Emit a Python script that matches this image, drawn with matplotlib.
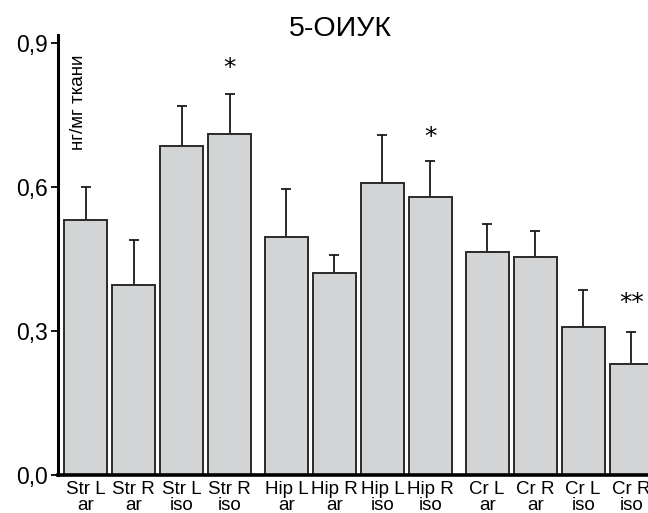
import numpy as np
import matplotlib
matplotlib.use("Agg")
import matplotlib.pyplot as plt

plt.rcParams['font.family'] = ['Liberation Sans', 'DejaVu Sans']

# Подписи столбцов
labels = ["Str L\nar", "Str R\nar", "Str L\niso", "Str R\niso",
          "Hip L\nar", "Hip R\nar", "Hip L\niso", "Hip R\niso",
          "Cr L\nar", "Cr R\nar", "Cr L\niso", "Cr R\niso"]

# Средние значения, нг/мг ткани
means = [0.531, 0.395, 0.685, 0.711,
         0.495, 0.420, 0.608, 0.579,
         0.465, 0.454, 0.308, 0.231]

# Верх планок погрешности
err_top = [0.601, 0.490, 0.769, 0.793,
           0.595, 0.459, 0.708, 0.655,
           0.523, 0.508, 0.386, 0.297]

# Отметки значимости: индекс столбца, текст, высота
marks = [(3, "*", 0.848), (7, "*", 0.705), (11, "**", 0.359)]

groups = [0, 0, 0, 0, 1, 1, 1, 1, 2, 2, 2, 2]
gap = 0.18
x = np.arange(len(means)) + np.array(groups) * gap
errs = np.array(err_top) - np.array(means)

dpi = 100
fig = plt.figure(figsize=(648 / dpi, 513 / dpi), dpi=dpi)
ax = fig.add_axes([58 / 648, 1 - 475 / 513, 1 - 58 / 648, (475 - 35) / 513])

ax.bar(x, means, width=0.9, color="#d3d4d6", edgecolor="#2a2a2a",
       linewidth=1.4, zorder=2)
ax.errorbar(x, means, yerr=[np.zeros(len(errs)), errs], fmt="none",
            ecolor="#1a1a1a", elinewidth=1.3, capsize=3.3, capthick=1.3,
            zorder=1)

for i, txt, h in marks:
    ax.text(x[i], h, txt, ha="center", va="center", fontsize=18,
            family="DejaVu Sans")

ax.set_xlim(-0.577, 11.71)
ax.set_ylim(0, (475 - 35) / 480)
ax.set_yticks([0, 0.3, 0.6, 0.9])
ax.set_yticklabels(["0,0", "0,3", "0,6", "0,9"], fontsize=16.5)
ax.set_xticks(x)
ax.set_xticklabels(labels, fontsize=13.5, linespacing=0.95)
ax.tick_params(axis="x", length=0, pad=4)
ax.tick_params(axis="y", length=5, width=1.3, direction="out", pad=2)

for s in ["top", "right"]:
    ax.spines[s].set_visible(False)
ax.spines["left"].set_linewidth(2.2)
ax.spines["bottom"].set_linewidth(2.6)

ax.text(0.02, 0.955, "нг/мг ткани", transform=ax.transAxes, rotation=90,
        ha="left", va="top", fontsize=13.5)

fig.text(340 / 648, 1 - 29 / 513, "5-ОИУК", ha="center", va="center",
         fontsize=20.5)

fig.savefig("out.png", dpi=dpi)
